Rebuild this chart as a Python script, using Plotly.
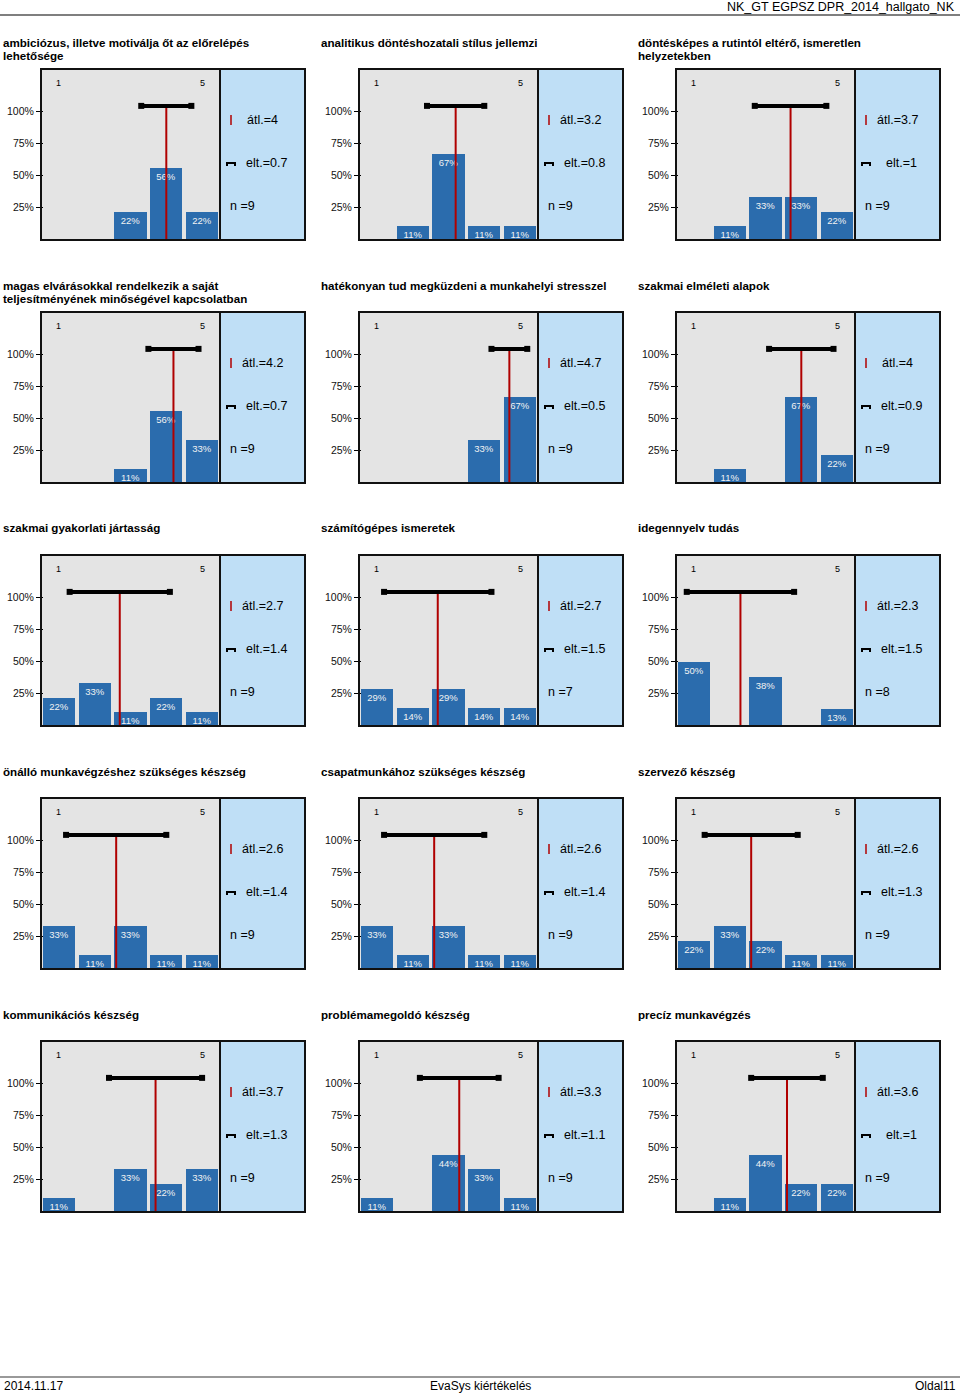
import plotly.graph_objects as go

W, H = 960, 1395

titles = [
    ["ambiciózus, illetve motiválja őt az előrelépés", "lehetősége"],
    ["analitikus döntéshozatali stílus jellemzi"],
    ["döntésképes a rutintól eltérő, ismeretlen", "helyzetekben"],
    ["magas elvárásokkal rendelkezik a saját", "teljesítményének minőségével kapcsolatban"],
    ["hatékonyan tud megküzdeni a munkahelyi stresszel"],
    ["szakmai elméleti alapok"],
    ["szakmai gyakorlati jártasság"],
    ["számítógépes ismeretek"],
    ["idegennyelv tudás"],
    ["önálló munkavégzéshez szükséges készség"],
    ["csapatmunkához szükséges készség"],
    ["szervező készség"],
    ["kommunikációs készség"],
    ["problémamegoldó készség"],
    ["precíz munkavégzés"],
]
values = [
    [0, 0, 22, 56, 22],
    [0, 11, 67, 11, 11],
    [0, 11, 33, 33, 22],
    [0, 0, 11, 56, 33],
    [0, 0, 0, 33, 67],
    [0, 11, 0, 67, 22],
    [22, 33, 11, 22, 11],
    [29, 14, 29, 14, 14],
    [50, 0, 38, 0, 13],
    [33, 11, 33, 11, 11],
    [33, 11, 33, 11, 11],
    [22, 33, 22, 11, 11],
    [11, 0, 33, 22, 33],
    [11, 0, 44, 33, 11],
    [0, 11, 44, 22, 22],
]
means = [4, 3.2, 3.7, 4.2, 4.7, 4, 2.7, 2.7, 2.3, 2.6, 2.6, 2.6, 3.7, 3.3, 3.6]
mean_labels = ["4", "3.2", "3.7", "4.2", "4.7", "4", "2.7", "2.7", "2.3", "2.6", "2.6", "2.6", "3.7", "3.3", "3.6"]
sds = [0.7, 0.8, 1, 0.7, 0.5, 0.9, 1.4, 1.5, 1.5, 1.4, 1.4, 1.3, 1.3, 1.1, 1]
sd_labels = ["0.7", "0.8", "1", "0.7", "0.5", "0.9", "1.4", "1.5", "1.5", "1.4", "1.4", "1.3", "1.3", "1.1", "1"]
ns = [9, 9, 9, 9, 9, 9, 9, 7, 8, 9, 9, 9, 9, 9, 9]
categories = [1, 2, 3, 4, 5]
ytick_vals = [0.25, 0.5, 0.75, 1.0]
ytick_text = ["25%", "50%", "75%", "100%"]

FONT = "Liberation Sans, Arial, sans-serif"
BAR = "#2b6cad"
RED = "#b00000"
GRAY = "#e4e4e4"
BLUE = "#bfdff6"

def px(x):
    return x / W

def py(y):
    return 1 - y / H

fig = go.Figure()
shapes = []
annotations = []

col_left = [41, 359, 676]
row_top = [69, 312, 555, 798, 1041]
GW, BW, PH = 179, 85, 171
YMAX = 1.326
SDY = 1.04

for i in range(15):
    r, c = divmod(i, 3)
    gl = col_left[c]
    top = row_top[r]
    k = i + 1
    xa = "x" if k == 1 else f"x{k}"
    ya = "y" if k == 1 else f"y{k}"
    xkey = "xaxis" if k == 1 else f"xaxis{k}"
    ykey = "yaxis" if k == 1 else f"yaxis{k}"

    fig.update_layout(**{
        xkey: dict(domain=[px(gl), px(gl + GW)], range=[0.5, 5.5], showticklabels=False,
                   showgrid=False, zeroline=False, ticks="", anchor=ya, fixedrange=True),
        ykey: dict(domain=[py(top + PH), py(top)], range=[0, YMAX], tickvals=ytick_vals,
                   ticktext=ytick_text, ticks="outside", ticklen=4, tickcolor="black",
                   tickwidth=1, showgrid=False, zeroline=False,
                   minor=dict(tickvals=ytick_vals, ticks="inside", ticklen=2, tickcolor="black",
                              tickwidth=1, showgrid=False),
                   tickfont=dict(size=10.5, color="#111", family=FONT), anchor=xa, fixedrange=True),
    })

    vals = values[i]
    fig.add_trace(go.Bar(
        x=categories, y=[v / 100 for v in vals], width=0.9, marker=dict(color=BAR, line=dict(width=0)),
        text=[f"{v}%" if v > 0 else "" for v in vals], textposition="inside",
        insidetextanchor="end", constraintext="none",
        textfont=dict(color="#f2f2f2", size=9.5, family=FONT),
        xaxis=xa, yaxis=ya, showlegend=False, hoverinfo="skip",
    ))
    m, s = means[i], sds[i]
    fig.add_trace(go.Scatter(
        x=[m, m], y=[0, SDY], mode="lines", line=dict(color=RED, width=2),
        xaxis=xa, yaxis=ya, showlegend=False, hoverinfo="skip",
    ))
    fig.add_trace(go.Scatter(
        x=[m - s, m + s], y=[SDY, SDY], mode="lines+markers",
        line=dict(color="black", width=4), marker=dict(symbol="square", size=6, color="black"),
        xaxis=xa, yaxis=ya, showlegend=False, hoverinfo="skip",
    ))
    for cat in (1, 5):
        annotations.append(dict(x=cat, y=1.22, xref=xa, yref=ya, text=str(cat), showarrow=False,
                                font=dict(size=9, color="black", family=FONT)))

    # blue info box
    bl = gl + GW
    shapes.append(dict(type="rect", xref="paper", yref="paper", x0=px(bl), x1=px(bl + BW),
                       y0=py(top + PH), y1=py(top), fillcolor=BLUE, line=dict(width=0), layer="below"))
    # borders
    shapes.append(dict(type="rect", xref="paper", yref="paper", x0=px(gl), x1=px(bl + BW),
                       y0=py(top + PH), y1=py(top), line=dict(color="#111", width=2), layer="above"))
    shapes.append(dict(type="line", xref="paper", yref="paper", x0=px(bl), x1=px(bl),
                       y0=py(top + PH), y1=py(top), line=dict(color="#111", width=2), layer="above"))

    # info text
    ya1 = top + 51
    ya2 = top + 94
    ya3 = top + 137
    shapes.append(dict(type="line", xref="paper", yref="paper", x0=px(bl + 11), x1=px(bl + 11),
                       y0=py(ya1 + 5), y1=py(ya1 - 5), line=dict(color=RED, width=1.5)))
    shapes.append(dict(type="path", xref="paper", yref="paper",
                       path=f"M {px(bl+7)},{py(ya2+3)} L {px(bl+7)},{py(ya2)} L {px(bl+15)},{py(ya2)} L {px(bl+15)},{py(ya2+3)}",
                       line=dict(color="black", width=2)))
    annotations.append(dict(x=px(bl + 42), y=py(ya1), xref="paper", yref="paper", text=f"átl.={mean_labels[i]}",
                            showarrow=False, xanchor="center", yanchor="middle",
                            font=dict(size=12.5, color="black", family=FONT)))
    annotations.append(dict(x=px(bl + 46), y=py(ya2), xref="paper", yref="paper", text=f"elt.={sd_labels[i]}",
                            showarrow=False, xanchor="center", yanchor="middle",
                            font=dict(size=12.5, color="black", family=FONT)))
    annotations.append(dict(x=px(bl + 8), y=py(ya3), xref="paper", yref="paper", text=f"n ={ns[i]}",
                            showarrow=False, xanchor="left", yanchor="middle",
                            font=dict(size=12.5, color="black", family=FONT)))
    # title (one annotation per line for tight line spacing)
    for li, line in enumerate(titles[i]):
        annotations.append(dict(x=px(gl - 40), y=py(top - 27 + 13 * li), xref="paper", yref="paper",
                                text=f"<b>{line}</b>", showarrow=False, xanchor="left", yanchor="middle",
                                align="left", font=dict(size=11.6, color="black", family=FONT)))

# header & footer
shapes.append(dict(type="line", xref="paper", yref="paper", x0=0, x1=1, y0=py(15), y1=py(15),
                   line=dict(color="#555", width=1.5)))
shapes.append(dict(type="line", xref="paper", yref="paper", x0=0, x1=1, y0=py(1377), y1=py(1377),
                   line=dict(color="#777", width=1.5)))
annotations.append(dict(x=px(957), y=py(7.5), xref="paper", yref="paper", text="NK_GT EGPSZ DPR_2014_hallgato_NK",
                        showarrow=False, xanchor="right", yanchor="middle", font=dict(size=12.5, color="black", family=FONT)))
annotations.append(dict(x=px(2), y=py(1386), xref="paper", yref="paper", text="2014.11.17",
                        showarrow=False, xanchor="left", yanchor="middle", font=dict(size=12, color="black", family=FONT)))
annotations.append(dict(x=px(480), y=py(1386), xref="paper", yref="paper", text="EvaSys kiértékelés",
                        showarrow=False, xanchor="center", yanchor="middle", font=dict(size=12, color="black", family=FONT)))
annotations.append(dict(x=px(958), y=py(1386), xref="paper", yref="paper", text="Oldal11",
                        showarrow=False, xanchor="right", yanchor="middle", font=dict(size=12, color="black", family=FONT)))

fig.update_layout(
    width=W, height=H, margin=dict(l=0, r=0, t=0, b=0),
    paper_bgcolor="white", plot_bgcolor=GRAY, bargap=0,
    shapes=shapes, annotations=annotations, showlegend=False,
    font=dict(family=FONT),
)
fig.write_html("out.html", config={"displayModeBar": False},
               post_script="document.body.style.margin='0';document.body.style.overflow='hidden';")
